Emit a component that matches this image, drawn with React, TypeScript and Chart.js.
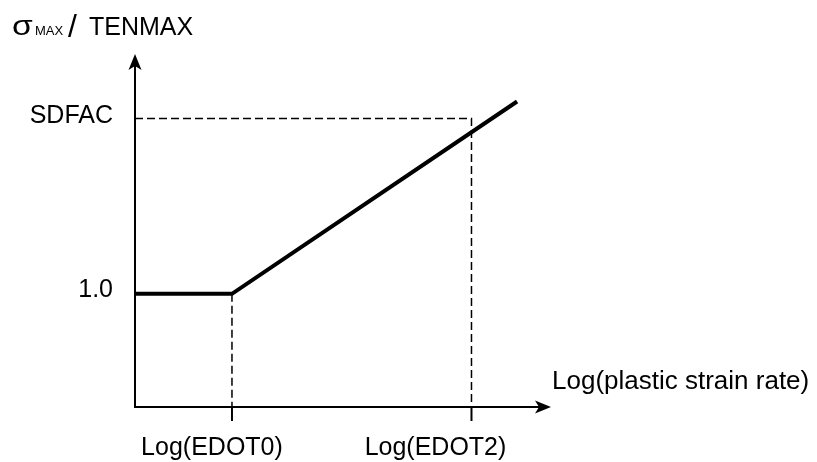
import React, { useEffect, useRef } from "react";
import { Chart, registerables } from "chart.js";

Chart.register(...registerables);

// Data (arbitrary log-strain-rate units on x, normalised stress on y)
const xEdot0 = 1.0;
const xEdot2 = 3.47;
const xEnd = 3.94;
const xMax = 4.29;
const yOne = 1.0;
const ySdfac = 2.55;
const yEnd = 2.7;
const yMax = 3.12;

const curveX = [0, xEdot0, xEnd];
const curveY = [yOne, yOne, yEnd];
const sdfacGuideX = [0, xEdot2, xEdot2];
const sdfacGuideY = [ySdfac, ySdfac, 0];
const edot0GuideX = [xEdot0, xEdot0];
const edot0GuideY = [yOne, 0];

const yTickValues = [ySdfac, yOne];
const yTickLabels = ["SDFAC", "1.0"];
const xTickValues = [xEdot0, xEdot2];
const xTickLabels = ["Log(EDOT0)", "Log(EDOT2)"];
const xTickLabelShift = [-20, -36];
const xAxisTitle = "Log(plastic strain rate)";

const FONT = '"Liberation Sans", Arial, Helvetica, sans-serif';

const toPts = (xs: number[], ys: number[]) => xs.map((x, i) => ({ x, y: ys[i] }));

const axesPlugin = {
  id: "customAxes",
  afterDatasetsDraw(chart: any) {
    const { ctx, scales } = chart;
    const xs = scales.x;
    const ys = scales.y;
    const x0 = xs.getPixelForValue(0);
    const y0 = ys.getPixelForValue(0);
    const xTop = xs.getPixelForValue(xMax);
    const yTop = ys.getPixelForValue(yMax);
    ctx.save();
    ctx.strokeStyle = "#000";
    ctx.fillStyle = "#000";
    ctx.lineWidth = 2;
    // y axis
    ctx.beginPath();
    ctx.moveTo(x0, y0);
    ctx.lineTo(x0, yTop + 10);
    ctx.stroke();
    // x axis
    ctx.beginPath();
    ctx.moveTo(x0 - 1, y0);
    ctx.lineTo(xTop - 10, y0);
    ctx.stroke();
    // arrow heads
    ctx.beginPath();
    ctx.moveTo(x0, yTop);
    ctx.lineTo(x0 - 6.5, yTop + 16);
    ctx.lineTo(x0, yTop + 12);
    ctx.lineTo(x0 + 6.5, yTop + 16);
    ctx.closePath();
    ctx.fill();
    ctx.beginPath();
    ctx.moveTo(xTop, y0);
    ctx.lineTo(xTop - 16, y0 - 6.5);
    ctx.lineTo(xTop - 12, y0);
    ctx.lineTo(xTop - 16, y0 + 6.5);
    ctx.closePath();
    ctx.fill();
    // x ticks
    ctx.lineWidth = 2;
    xTickValues.forEach((v) => {
      const px = xs.getPixelForValue(v);
      ctx.beginPath();
      ctx.moveTo(px, y0);
      ctx.lineTo(px, y0 + 14);
      ctx.stroke();
    });
    // labels
    ctx.font = `25px ${FONT}`;
    ctx.textBaseline = "alphabetic";
    ctx.textAlign = "right";
    yTickValues.forEach((v, i) => {
      const py = ys.getPixelForValue(v);
      ctx.fillText(yTickLabels[i], x0 - 22, py + 4 + (i === 0 ? 1 : -1));
    });
    ctx.textAlign = "center";
    xTickValues.forEach((v, i) => {
      const px = xs.getPixelForValue(v);
      ctx.fillText(xTickLabels[i], px + xTickLabelShift[i], y0 + 48);
    });
    ctx.textAlign = "left";
    ctx.font = `26px ${FONT}`;
    ctx.fillText(xAxisTitle, xTop + 1, y0 - 18);
    // y axis title: σ MAX / TENMAX
    const by = 35;
    ctx.save();
    ctx.translate(12, by);
    ctx.scale(1.2, 1);
    ctx.font = `28px ${FONT}`;
    ctx.fillText("σ", 0, 0);
    ctx.restore();
    ctx.font = `13px ${FONT}`;
    ctx.fillText("MAX", 35, by);
    ctx.font = `32px ${FONT}`;
    ctx.fillText("/", 68, by + 2);
    ctx.font = `25px ${FONT}`;
    ctx.fillText("TENMAX", 89, by);
    ctx.restore();
  },
};

export default function App() {
  const ref = useRef<HTMLCanvasElement | null>(null);
  useEffect(() => {
    document.body.style.margin = "0";
    const canvas = ref.current!;
    const chart = new Chart(canvas, {
      type: "scatter",
      data: {
        datasets: [
          {
            data: toPts(sdfacGuideX, sdfacGuideY),
            showLine: true,
            borderColor: "#000",
            borderWidth: 1.5,
            borderDash: [8, 4],
            pointRadius: 0,
            fill: false,
          },
          {
            data: toPts(edot0GuideX, edot0GuideY),
            showLine: true,
            borderColor: "#000",
            borderWidth: 1.5,
            borderDash: [8, 4],
            pointRadius: 0,
            fill: false,
          },
          {
            data: toPts(curveX, curveY),
            showLine: true,
            borderColor: "#000",
            borderWidth: 4,
            pointRadius: 0,
            fill: false,
            borderJoinStyle: "miter",
          },
        ],
      },
      options: {
        responsive: false,
        animation: false,
        layout: { padding: { left: 135, right: 266, top: 54, bottom: 55 } },
        plugins: { legend: { display: false }, tooltip: { enabled: false } },
        scales: {
          x: { type: "linear", min: 0, max: xMax, display: false },
          y: { type: "linear", min: 0, max: yMax, display: false },
        },
      },
      plugins: [axesPlugin],
    });
    return () => chart.destroy();
  }, []);
  return (
    <div style={{ position: "absolute", left: 0, top: 0, width: 817, height: 462, background: "#fff" }}>
      <canvas ref={ref} width={817} height={462} style={{ display: "block" }} />
    </div>
  );
}
